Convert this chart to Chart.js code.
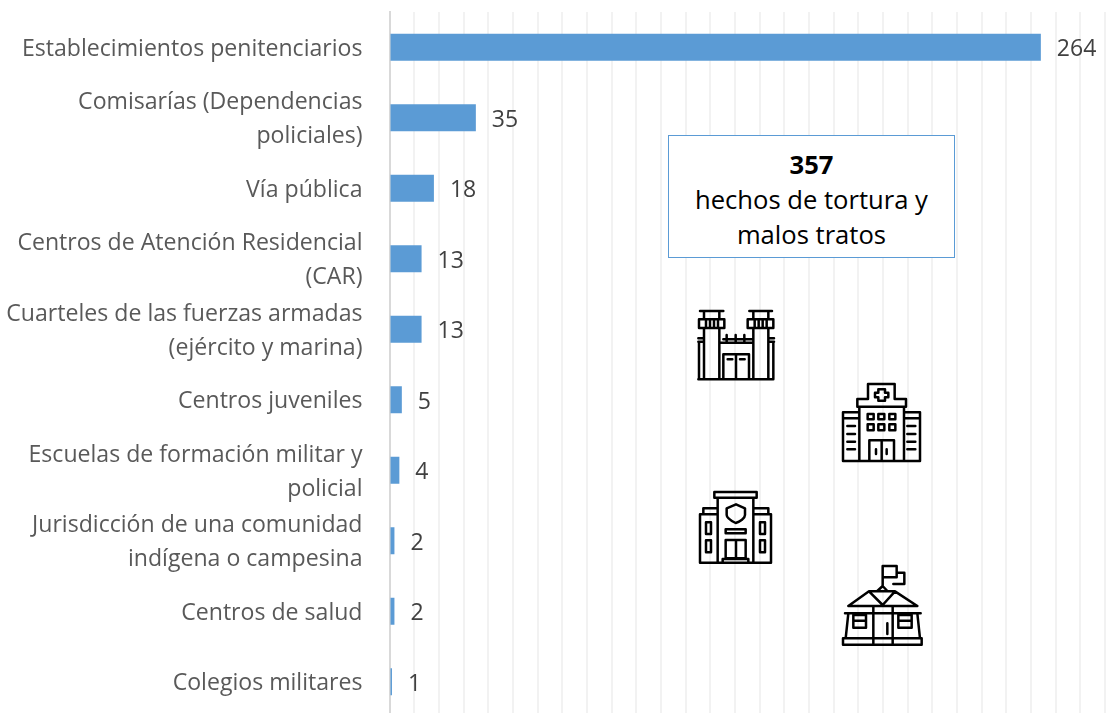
<!DOCTYPE html>
<html lang="es"><head><meta charset="utf-8">
<style>
html,body{margin:0;padding:0;background:#fff;overflow:hidden;width:1117px;height:713px}
#wrap{position:relative;width:1117px;height:713px;overflow:hidden}
#c{position:absolute;left:0;top:0}
#box{position:absolute;left:668px;top:135px;width:285px;height:121px;border:1px solid #5b9bd5;background:#fff;text-align:center;font:25.6px/35px "Open Sans",sans-serif;color:#000}
#box div:first-child{margin-top:11px;font-weight:700}
svg.i{position:absolute;fill:none;stroke:#000;stroke-width:7.500;stroke-linejoin:round;stroke-linecap:round}
</style></head><body><div id="wrap">
<canvas id="c" width="1117" height="730" style="width:1117px;height:730px"></canvas>
<div id="box"><div>357</div><div>hechos de tortura y</div><div>malos tratos</div></div>
<svg class="i" style="left:680px;top:300px" width="260" height="180" viewBox="0 0 780 540">
<path d="M60 33H130M208 33H276M72 33V58M118 33V58M220 33V58M265 33V58M57 58H133V84H57ZM203 58H280V84H203ZM78 62V80M90 62V80M102 62V80M114 62V80M224 62V80M236 62V80M248 62V80M260 62V80M72 84V238M118 84V238M220 84V238M265 84V238M57 130V238M280 130V238M55 115H72M55 125H72M265 115H282M265 125H282M55 238H280M118 128H220M130 118H215M140 105V128M167 105V128M193 105V128M130 238V163H207V238M168 163V238M143 178H157M180 178H194"/>
<path d="M489 483H720V337H672M489 483V337H538M489 355H538M672 355H720M538 320V483M672 320V483M532 320V297H563M645 297H678V320H532M564 297V252H644V297M595 268H615V278H625V292H615V302H595V292H585V278H595ZM563 342H581V358H563ZM595 342H613V358H595ZM628 342H646V358H628ZM563 373H581V391H563ZM595 373H613V391H595ZM628 373H646V391H628ZM568 483V421H642V483M605 421V483M588 448V462M620 448V462M502 378H525M502 402H525M502 425H525M502 448H525M682 378H706M682 402H706M682 425H706M682 448H706"/>
</svg>
<svg class="i" style="left:680px;top:480px" width="260" height="180" viewBox="0 0 780 540">
<path d="M103 36H230V53H103ZM113 53V248M220 53V248M60 248V103H113M70 103V85H113M220 85H265V103M220 103H273V248M60 248H273M78 127H93V162H78ZM78 181H93V217H78ZM240 127H255V162H240ZM240 181H255V217H240ZM168 73L195 85V105C195 115 180 125 167 129C153 122 140 115 140 105V85ZM137 148H197V160H137ZM137 180H197V235H137ZM168 180V235M128 248V237H205V248"/>
<path d="M489 475H725V494H489ZM608 318V258H650V292H608M650 278H673V312H640M592 333L608 318L622 333M505 378L567 334H645L712 378M567 334L608 375L645 334M495 400H722M505 378H712M505 400L497 475M712 400L720 475M580 380V490M638 380V490M622 430V462M520 405H558V443H520ZM520 422H558M655 405H695V443H655ZM655 422H695"/>
</svg>
</div>
<script src="https://cdn.jsdelivr.net/npm/chart.js@4"></script>
<script>
const categories=[
 "Establecimientos penitenciarios",
 ["Comisarías (Dependencias","policiales)"],
 "Vía pública",
 ["Centros de Atención Residencial","(CAR)"],
 ["Cuarteles de las fuerzas armadas","(ejército y marina)"],
 "Centros juveniles",
 ["Escuelas de formación militar y","policial"],
 ["Jurisdicción de una comunidad","indígena o campesina"],
 "Centros de salud",
 "Colegios militares"];
const values=[264,35,18,13,13,5,4,2,2,1];
const FONT='"Open Sans",sans-serif';
const labelPlugin={id:'barValues',afterDatasetsDraw(chart){
 const {ctx}=chart;const m=chart.getDatasetMeta(0);
 ctx.save();ctx.font='23px '+FONT;ctx.fillStyle='#404040';ctx.textBaseline='middle';ctx.textAlign='left';
 m.data.forEach((b,i)=>ctx.fillText(String(values[i]),b.x+16,b.y+2.5));
 ctx.restore();}};
new Chart(document.getElementById('c'),{
 type:'bar',
 data:{labels:categories,datasets:[{data:values,backgroundColor:'#5b9bd5',borderWidth:0,barPercentage:0.38,categoryPercentage:1}]},
 options:{indexAxis:'y',responsive:false,animation:false,
  layout:{padding:{left:0,right:12,top:12,bottom:13}},
  plugins:{legend:{display:false},tooltip:{enabled:false}},
  scales:{
   x:{min:0,max:290,display:true,position:'bottom',afterFit(s){s.height=0;s.paddingLeft=0;s.paddingRight=0},
      ticks:{display:false,stepSize:10},border:{display:false},grid:{color:'#f2f2f2',lineWidth:2,drawTicks:false}},
   y:{afterFit(s){s.width=389.5;s.paddingTop=0;s.paddingBottom=0},grid:{display:false},border:{color:'#d9d9d9',width:2},
      ticks:{color:'#595959',padding:19,labelOffset:2,autoSkip:false,font:{family:FONT,size:23.100,lineHeight:1.478}}}
  }},
 plugins:[labelPlugin]});
</script></body></html>
